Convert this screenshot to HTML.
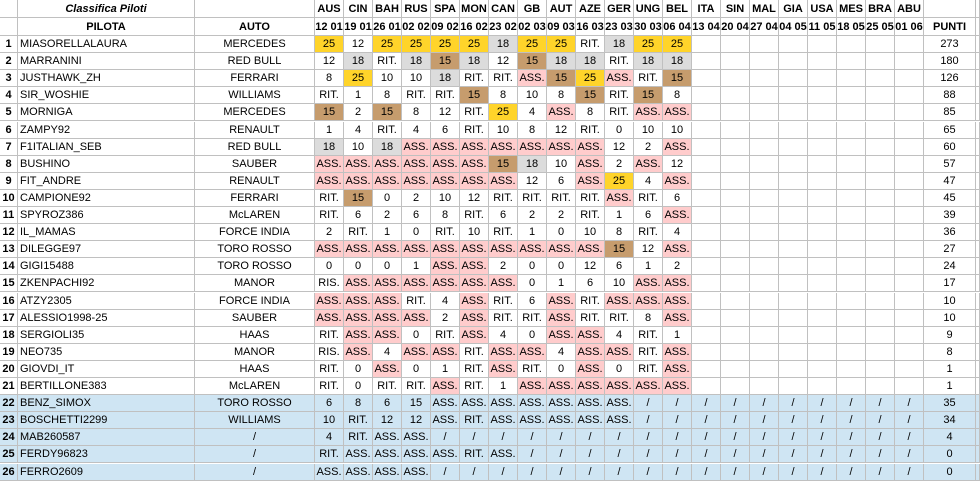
<!DOCTYPE html>
<html><head><meta charset="utf-8">
<style>
body{margin:0;width:980px;height:482px;overflow:hidden;background:#fff;font-family:"Liberation Sans",Arial,sans-serif;font-size:11px;color:#000}
#sheet{position:relative;width:980px;height:482px}
.c{position:absolute;box-sizing:border-box;border-right:1px solid #c0c0c0;border-bottom:1px solid #c0c0c0;display:flex;align-items:center;justify-content:center;white-space:nowrap;overflow:hidden}
.l{justify-content:flex-start;padding-left:2px}
.b{font-weight:bold}
</style></head><body>
<div id="sheet"></div>
<script>
const races=["AUS","CIN","BAH","RUS","SPA","MON","CAN","GB","AUT","AZE","GER","UNG","BEL","ITA","SIN","MAL","GIA","USA","MES","BRA","ABU"];
const dates=["12 01","19 01","26 01","02 02","09 02","16 02","23 02","02 03","09 03","16 03","23 03","30 03","06 04","13 04","20 04","27 04","04 05","11 05","18 05","25 05","01 06"];
const drivers=["MIASORELLALAURA","MARRANINI","JUSTHAWK_ZH","SIR_WOSHIE","MORNIGA","ZAMPY92","F1ITALIAN_SEB","BUSHINO","FIT_ANDRE","CAMPIONE92","SPYROZ386","IL_MAMAS","DILEGGE97","GIGI15488","ZKENPACHI92","ATZY2305","ALESSIO1998-25","SERGIOLI35","NEO735","GIOVDI_IT","BERTILLONE383","BENZ_SIMOX","BOSCHETTI2299","MAB260587","FERDY96823","FERRO2609"];
const cars=["MERCEDES","RED BULL","FERRARI","WILLIAMS","MERCEDES","RENAULT","RED BULL","SAUBER","RENAULT","FERRARI","McLAREN","FORCE INDIA","TORO ROSSO","TORO ROSSO","MANOR","FORCE INDIA","SAUBER","HAAS","MANOR","HAAS","McLAREN","TORO ROSSO","WILLIAMS","/","/","/"];
const points=[273,180,126,88,85,65,60,57,47,45,39,36,27,24,17,10,10,9,8,1,1,35,34,4,0,0];
const A="ASS.",R="RIT.",S="/";
const results=[
[25,12,25,25,25,25,18,25,25,R,18,25,25],
[12,18,R,18,15,18,12,15,18,18,R,18,18],
[8,25,10,10,18,R,R,A,15,25,A,R,15],
[R,1,8,R,R,15,8,10,8,15,R,15,8],
[15,2,15,8,12,R,25,4,A,8,R,A,A],
[1,4,R,4,6,R,10,8,12,R,0,10,10],
[18,10,18,A,A,A,A,A,A,A,12,2,A],
[A,A,A,A,A,A,15,18,10,A,2,A,12],
[A,A,A,A,A,A,A,12,6,A,25,4,A],
[R,15,0,2,10,12,R,R,R,R,A,R,6],
[R,6,2,6,8,R,6,2,2,R,1,6,A],
[2,R,1,0,R,10,R,1,0,10,8,R,4],
[A,A,A,A,A,A,A,A,A,A,15,12,A],
[0,0,0,1,A,A,2,0,0,12,6,1,2],
["RIS.",A,A,A,A,A,A,0,1,6,10,A,A],
[A,A,A,R,4,A,R,6,A,R,A,A,A],
[A,A,A,A,2,A,R,R,A,R,R,8,A],
[R,A,A,0,R,A,4,0,A,A,4,R,1],
["RIS.",A,4,A,A,R,A,A,4,A,A,R,A],
[R,0,A,0,1,R,A,R,0,A,0,R,A],
[R,0,R,R,A,R,1,A,A,A,A,A,A],
[6,8,6,15,A,A,A,A,A,A,A],
[10,R,12,12,A,R,A,A,A,A,A],
[4,R,A,A],
[R,A,A,A,A,R,A],
[A,A,A,A]
];
const sheet=document.getElementById('sheet');
const X0=315,W=29,PX=924,PW=52,HH=18,RH=17.1,Y0=36;
function cell(x,y,w,h,txt,cls,bg,name,inter){
 const d=document.createElement('div');
 d.className='c '+(cls||'');
 d.style.left=x+'px';d.style.top=y+'px';d.style.width=w+'px';d.style.height=h+'px';
 if(bg)d.style.background=bg;
 d.textContent=txt;
 
 
 sheet.appendChild(d);return d;
}
// header
cell(0,0,18,HH,'','', '', 'corner-cell',false);
cell(18,0,177,HH,'Classifica Piloti','b','', 'sheet-title',false).style.fontStyle='italic';
cell(195,0,120,HH,'','', '', 'header-blank',false);
cell(0,HH,18,HH,'','', '', 'corner-cell-2',false);
cell(18,HH,177,HH,'PILOTA','b','', 'pilota-header',false);
cell(195,HH,120,HH,'AUTO','b','', 'auto-header',false);
races.forEach((r,i)=>{
 cell(X0+i*W,0,W,HH,r,'b','', 'race-header-'+r.toLowerCase(),false);
 cell(X0+i*W,HH,W,HH,dates[i],'b','', 'race-date-'+r.toLowerCase(),false);
});
cell(PX,0,PW,HH,'','', '', 'punti-header-blank',false);
cell(PX,HH,PW,HH,'PUNTI','b','', 'punti-header',false);
cell(PX+PW,0,980-PX-PW,HH,'','', '', 'extra-col',false);
cell(PX+PW,HH,980-PX-PW,HH,'','', '', 'extra-col',false);
function colorFor(v,blue){
 if(blue)return '#cfe5f3';
 if(v===25)return '#ffd42a';
 if(v===18)return '#dcdcdc';
 if(v===15)return '#c69c6d';
 if(v===A)return '#ffcccc';
 return '';
}
drivers.forEach((d,i)=>{
 const y=Y0+i*RH, blue=i>=21, bg=blue?'#cfe5f3':'';
 cell(0,y,18,RH,String(i+1),'b',bg,'row-number',false);
 cell(18,y,177,RH,d,'l',bg,'driver-name',false);
 cell(195,y,120,RH,cars[i],'',bg,'driver-car',false);
 races.forEach((r,j)=>{
  let v=results[i][j];
  if(v===undefined)v=blue?S:'';
  cell(X0+j*W,y,W,RH,String(v),'',colorFor(v,blue),'result-'+r.toLowerCase(),false);
 });
 cell(PX,y,PW,RH,String(points[i]),'',bg,'driver-points',false);
 cell(PX+PW,y,980-PX-PW,RH,'','',bg,'extra-col',false);
});
</script>
</body></html>
